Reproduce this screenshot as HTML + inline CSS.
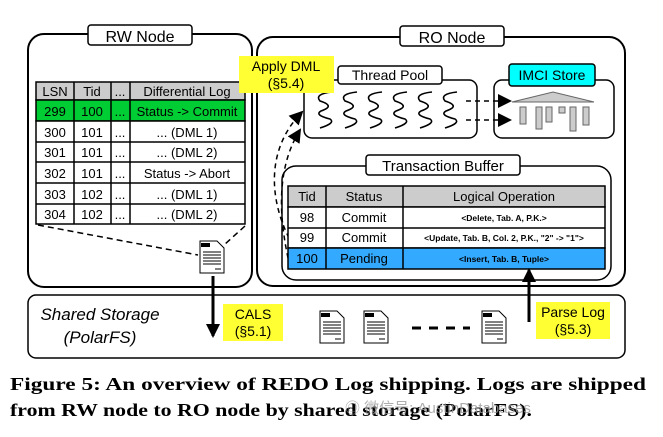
<!DOCTYPE html>
<html><head><style>body{margin:0;background:#fff}svg{display:block}</style></head><body>
<svg width="663" height="437" viewBox="0 0 663 437" xmlns="http://www.w3.org/2000/svg" font-family="Liberation Sans, sans-serif">
<defs>
<marker id="ab" markerWidth="14" markerHeight="14" refX="12" refY="7" orient="auto" markerUnits="userSpaceOnUse"><path d="M0,0 L14,7 L0,14 Z" fill="#000"/></marker>
<g id="doc"><path d="M0,0 H17 L24,7 V32 H0 Z" fill="#fff" stroke="#000" stroke-width="1"/><rect x="1" y="2" width="9" height="4" fill="#000"/><g stroke="#000" stroke-width="1"><line x1="3" y1="11" x2="21" y2="11"/><line x1="3" y1="14" x2="21" y2="14"/><line x1="3" y1="17" x2="21" y2="17"/><line x1="3" y1="20" x2="21" y2="20"/><line x1="3" y1="23" x2="21" y2="23"/><line x1="15" y1="28" x2="21" y2="28"/></g></g>
<path id="sq" d="M14,0 Q-4,2 2,9 Q18,14 3,19 Q-4,23 12,27 Q18,31 2,36" fill="none" stroke="#000" stroke-width="1.6"/>
</defs>
<!-- RW node -->
<rect x="28" y="34" width="224" height="253" rx="16" fill="none" stroke="#000" stroke-width="2"/>
<rect x="88" y="25" width="104" height="20" rx="3" fill="#fff" stroke="#000" stroke-width="1.5"/>
<text x="140" y="42" font-size="16" text-anchor="middle">RW Node</text>
<g stroke="#000" stroke-width="1.5">
<rect x="36" y="82" width="209" height="18" fill="#ccc"/>
<rect x="36" y="100" width="209" height="21" fill="#00cc33"/>
<rect x="36" y="121" width="209" height="103" fill="#fff"/>
<line x1="36" y1="142" x2="245" y2="142"/><line x1="36" y1="162" x2="245" y2="162"/><line x1="36" y1="183" x2="245" y2="183"/><line x1="36" y1="204" x2="245" y2="204"/>
<line x1="74" y1="82" x2="74" y2="224"/><line x1="111" y1="82" x2="111" y2="224"/><line x1="130" y1="82" x2="130" y2="224"/>
</g>
<g font-size="13" text-anchor="middle">
<text x="55" y="96">LSN</text><text x="92" y="96">Tid</text><text x="120" y="96">...</text><text x="187" y="96">Differential Log</text>
<text x="55" y="116">299</text><text x="92" y="116">100</text><text x="120" y="116">...</text><text x="187" y="116">Status -&gt; Commit</text>
<text x="55" y="137">300</text><text x="92" y="137">101</text><text x="120" y="137">...</text><text x="187" y="137">... (DML 1)</text>
<text x="55" y="157">301</text><text x="92" y="157">101</text><text x="120" y="157">...</text><text x="187" y="157">... (DML 2)</text>
<text x="55" y="178">302</text><text x="92" y="178">101</text><text x="120" y="178">...</text><text x="187" y="178">Status -&gt; Abort</text>
<text x="55" y="199">303</text><text x="92" y="199">102</text><text x="120" y="199">...</text><text x="187" y="199">... (DML 1)</text>
<text x="55" y="219">304</text><text x="92" y="219">102</text><text x="120" y="219">...</text><text x="187" y="219">... (DML 2)</text>
</g>
<g stroke="#000" stroke-width="1.5" stroke-dasharray="6,4" fill="none"><line x1="38" y1="225" x2="198" y2="255"/><line x1="245" y1="226" x2="224" y2="245"/></g>
<use href="#doc" x="200" y="241"/>
<!-- RO node -->
<rect x="257" y="37" width="368" height="249" rx="16" fill="none" stroke="#000" stroke-width="2"/>
<rect x="400" y="26" width="104" height="20" rx="3" fill="#fff" stroke="#000" stroke-width="1.5"/>
<text x="452" y="43" font-size="16" text-anchor="middle">RO Node</text>
<rect x="304" y="80" width="173" height="58" rx="8" fill="#fff" stroke="#000" stroke-width="1.5"/>
<rect x="338" y="66" width="104" height="18" rx="3" fill="#fff" stroke="#000" stroke-width="1.5"/>
<text x="390" y="80" font-size="14" text-anchor="middle">Thread Pool</text>
<use href="#sq" x="318" y="92"/><use href="#sq" x="343" y="92"/><use href="#sq" x="368" y="92"/><use href="#sq" x="393" y="92"/><use href="#sq" x="418" y="92"/><use href="#sq" x="443" y="92"/>
<rect x="494" y="80" width="120" height="58" rx="8" fill="#fff" stroke="#000" stroke-width="1.5"/>
<g fill="none" stroke="#000" stroke-width="1.5">
<line x1="466" y1="101" x2="510" y2="101" stroke-dasharray="5,4" marker-end="url(#ab)"/>
<line x1="466" y1="120" x2="510" y2="120" stroke-dasharray="5,4" marker-end="url(#ab)"/>
</g>
<rect x="509" y="64" width="86" height="22" rx="3" fill="#00ffff" stroke="#000" stroke-width="1.5"/>
<text x="552" y="80" font-size="14" text-anchor="middle">IMCI Store</text>
<g fill="#ccc" stroke="#666" stroke-width="1"><path d="M512,102 L553,92 L594,102 Z"/><rect x="520" y="107" width="6" height="17"/><rect x="536" y="107" width="6" height="22"/><rect x="546" y="107" width="6" height="15"/><rect x="559" y="107" width="6" height="6"/><rect x="570" y="107" width="6" height="24"/><rect x="583" y="107" width="6" height="18"/></g>
<rect x="239" y="56" width="95" height="37" fill="#ffff33"/>
<text x="286" y="71" font-size="14" text-anchor="middle">Apply DML</text><text x="286" y="88" font-size="14" text-anchor="middle">(§5.4)</text>
<g fill="none" stroke="#000" stroke-width="1.5" stroke-dasharray="5,4">
<path d="M289,238 C270,200 265,150 302,112" marker-end="url(#ab)"/>
<path d="M288,258 C280,220 275,170 300,130" marker-end="url(#ab)"/>
</g>
<rect x="282" y="166" width="329" height="114" rx="14" fill="none" stroke="#000" stroke-width="1.5"/>
<rect x="366" y="155" width="154" height="20" rx="3" fill="#fff" stroke="#000" stroke-width="1.5"/>
<text x="443" y="171" font-size="15" text-anchor="middle">Transaction Buffer</text>
<g stroke="#000" stroke-width="1.5">
<rect x="288" y="186" width="317" height="21" fill="#ccc"/>
<rect x="288" y="207" width="317" height="41" fill="#fff"/>
<rect x="288" y="248" width="317" height="21" fill="#33aaff"/>
<line x1="288" y1="228" x2="605" y2="228"/>
<line x1="326" y1="186" x2="326" y2="269"/><line x1="403" y1="186" x2="403" y2="269"/>
</g>
<g font-size="13" text-anchor="middle">
<text x="307" y="201">Tid</text><text x="364" y="201">Status</text><text x="504" y="201">Logical Operation</text>
<text x="307" y="222">98</text><text x="364" y="222">Commit</text>
<text x="307" y="242">99</text><text x="364" y="242">Commit</text>
<text x="307" y="263">100</text><text x="364" y="263">Pending</text>
</g>
<g font-size="8.5" font-weight="bold" text-anchor="middle">
<text x="504" y="221">&lt;Delete, Tab. A, P.K.&gt;</text>
<text x="504" y="241">&lt;Update, Tab. B, Col. 2, P.K., "2" -&gt; "1"&gt;</text>
<text x="504" y="262">&lt;Insert, Tab. B, Tuple&gt;</text>
</g>
<!-- shared storage -->
<rect x="28" y="295" width="597" height="63" rx="8" fill="none" stroke="#000" stroke-width="1.5"/>
<text x="100" y="320" font-size="17" font-style="italic" text-anchor="middle">Shared Storage</text>
<text x="100" y="343" font-size="17" font-style="italic" text-anchor="middle">(PolarFS)</text>
<line x1="213" y1="276" x2="213" y2="336" stroke="#000" stroke-width="3" marker-end="url(#ab)"/>
<line x1="529" y1="322" x2="529" y2="270" stroke="#000" stroke-width="3" marker-end="url(#ab)"/>
<rect x="223" y="304" width="60" height="37" fill="#ffff33"/>
<text x="253" y="319" font-size="14" text-anchor="middle">CALS</text><text x="253" y="336" font-size="14" text-anchor="middle">(§5.1)</text>
<rect x="536" y="302" width="74" height="37" fill="#ffff33"/>
<text x="573" y="317" font-size="14" text-anchor="middle">Parse Log</text><text x="573" y="334" font-size="14" text-anchor="middle">(§5.3)</text>
<use href="#doc" x="320" y="311"/><use href="#doc" x="364" y="311"/><use href="#doc" x="482" y="311"/>
<line x1="412" y1="328" x2="470" y2="328" stroke="#000" stroke-width="3" stroke-dasharray="9,8"/>
<g font-family="Liberation Serif, serif" font-weight="bold" font-size="18">
<text x="10" y="390" textLength="636" lengthAdjust="spacingAndGlyphs">Figure 5: An overview of REDO Log shipping. Logs are shipped</text>
<text x="10" y="416" textLength="522" lengthAdjust="spacingAndGlyphs">from RW node to RO node by shared storage (PolarFS).</text>
</g>
<text x="345" y="413" font-size="15" fill="#999" opacity="0.8">◎ 微信号: AustinDatabases</text>
</svg>
</body></html>
